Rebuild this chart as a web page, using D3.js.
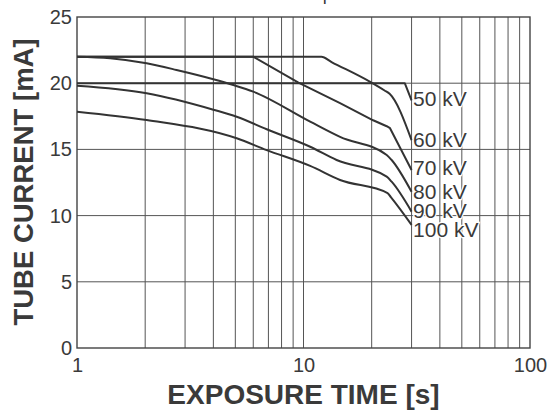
<!DOCTYPE html>
<html>
<head>
<meta charset="utf-8">
<script src="https://cdn.jsdelivr.net/npm/d3@7"></script>
<style>
  html, body { margin: 0; padding: 0; background: #fff; }
  svg { display: block; font-family: "Liberation Sans", Arial, sans-serif; }
</style>
</head>
<body>
<svg id="chart" width="549" height="415"></svg>
<script>
// Loading curves of the tube: exposure time [s] vs. tube current [mA]
const labels = ["50 kV", "60 kV", "70 kV", "80 kV", "90 kV", "100 kV"];
const curve50 = [[1, 20], [28, 20], [30, 18.7]];
const curve60 = [[1, 22], [12, 22], [13.3, 21.6], [19.7, 20.1], [22.8, 19.45], [24, 19.2], [30, 15.7]];
const curve70 = [[1, 22], [6, 22], [9.5, 20.05], [14.5, 18.5], [20.3, 17.2], [23.3, 16.75], [24.1, 16.6], [30, 13.45]];
const curve80 = [[1, 22], [1.4, 21.88], [2.03, 21.5], [2.75, 21.0], [4.0, 20.3], [4.9, 19.86], [6.0, 19.36], [10.7, 17.1], [14.5, 15.95], [23.3, 14.58], [24.5, 14.2], [30, 11.8]];
const curve90 = [[1, 19.8], [2.03, 19.24], [4.0, 18.0], [5.07, 17.47], [6.88, 16.52], [10.7, 15.2], [14, 14.2], [23.3, 12.94], [24.5, 12.56], [30, 10.3]];
const curve100 = [[1, 17.85], [2.03, 17.22], [5.07, 15.84], [6.88, 14.95], [10.7, 13.75], [14.5, 12.69], [23.5, 11.7], [24.3, 11.4], [30, 9.3]];
const curves = [curve50, curve60, curve70, curve80, curve90, curve100];
// baseline offsets of the curve labels below each curve's end point
const labelDrop = [6, 7, 5, 7, 6, 12];

const xTicks = [1, 10, 100];
const xGrid = [2, 3, 4, 5, 6, 7, 8, 9, 10, 20, 30, 40, 50, 60, 70, 80, 90];
const yTicks = [0, 5, 10, 15, 20, 25];

const svg = d3.select("#chart");
const plotLeft = 77, plotRight = 530, plotTop = 17, plotBottom = 348;

const x = d3.scaleLog().domain([1, 100]).range([plotLeft, plotRight]);
const y = d3.scaleLinear().domain([0, 25]).range([plotBottom, plotTop]);

const ink = "#3a3a3a";

// title above the frame (runs off the top edge)
svg.append("text")
  .attr("x", 300).attr("y", -0.4)
  .attr("text-anchor", "middle")
  .attr("font-size", 18).attr("fill", ink)
  .text("Tube output");

// grid
const grid = svg.append("g").attr("stroke", "#555").attr("stroke-width", 1);
grid.selectAll("line.v").data(xGrid).join("line")
  .attr("class", "v")
  .attr("x1", d => x(d)).attr("x2", d => x(d))
  .attr("y1", plotTop).attr("y2", plotBottom);
grid.selectAll("line.h").data(yTicks.slice(1, -1)).join("line")
  .attr("class", "h")
  .attr("x1", plotLeft).attr("x2", plotRight)
  .attr("y1", d => y(d)).attr("y2", d => y(d));

// frame
svg.append("rect")
  .attr("x", plotLeft).attr("y", plotTop)
  .attr("width", plotRight - plotLeft).attr("height", plotBottom - plotTop)
  .attr("fill", "none").attr("stroke", "#444").attr("stroke-width", 1.4);

// axes (labels only)
const xAxis = svg.append("g")
  .attr("transform", `translate(0,${plotBottom})`)
  .call(d3.axisBottom(x).tickValues(xTicks).tickFormat(d3.format("d")).tickSize(0).tickPadding(10));
const yAxis = svg.append("g")
  .attr("transform", `translate(${plotLeft},0)`)
  .call(d3.axisLeft(y).tickValues(yTicks).tickSize(0).tickPadding(5));
[xAxis, yAxis].forEach(a => {
  a.select(".domain").remove();
  a.selectAll("text")
    .attr("font-size", 20)
    .attr("font-family", "'Liberation Sans', Arial, sans-serif")
    .attr("fill", ink);
});

// curves: the gradual ones are smoothed, the sharp-cornered ones stay straight
const smoothLine = d3.line().x(d => x(d[0])).y(d => y(d[1])).curve(d3.curveMonotoneX);
const straightLine = d3.line().x(d => x(d[0])).y(d => y(d[1]));
const straight = new Set([curve50, curve70]);

svg.append("g")
  .selectAll("path").data(curves).join("path")
  .attr("d", d => (straight.has(d) ? straightLine : smoothLine)(d))
  .attr("fill", "none")
  .attr("stroke", "#333")
  .attr("stroke-width", 2)
  .attr("stroke-linejoin", "round");

// curve labels with a white halo over the grid
svg.append("g")
  .selectAll("text").data(curves).join("text")
  .attr("x", d => x(d[d.length - 1][0]) + 1.5)
  .attr("y", (d, i) => y(d[d.length - 1][1]) + labelDrop[i])
  .attr("font-size", 21)
  .attr("fill", ink)
  .attr("stroke", "#fff").attr("stroke-width", 2.5)
  .attr("paint-order", "stroke")
  .text((d, i) => labels[i]);

// axis titles
svg.append("text")
  .attr("x", (plotLeft + plotRight) / 2).attr("y", 404)
  .attr("text-anchor", "middle")
  .attr("font-size", 28).attr("font-weight", "bold")
  .attr("fill", ink)
  .text("EXPOSURE TIME [s]");

svg.append("text")
  .attr("transform", "translate(33,182) rotate(-90)")
  .attr("text-anchor", "middle")
  .attr("font-size", 27.5).attr("font-weight", "bold")
  .attr("fill", ink)
  .text("TUBE CURRENT [mA]");
</script>
</body>
</html>
